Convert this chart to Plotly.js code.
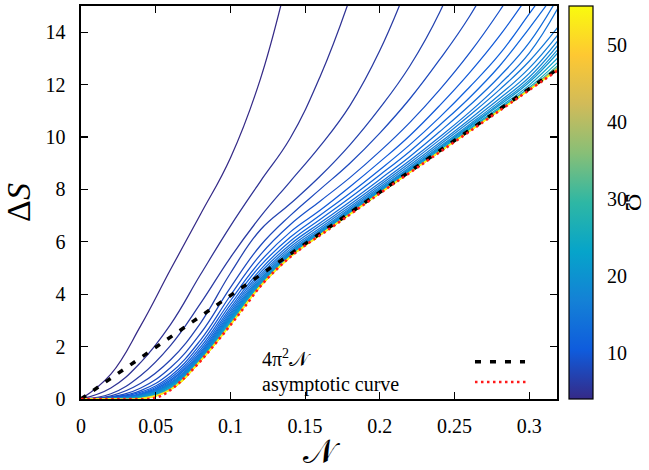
<!DOCTYPE html>
<html><head><meta charset="utf-8">
<script src="https://cdn.plot.ly/plotly-3.0.1.min.js"></script>
<style>html,body{margin:0;padding:0;background:#fff}#chart{width:649px;height:470px}</style>
</head><body><div id="chart"></div>
<script>
// ---- data ----
const N_grid = [0,0.02,0.04,0.06,0.08,0.10,0.12,0.14,0.16,0.18,0.20,0.22,0.24,0.26,0.28,0.30,0.32];
const omega = [4,5,6,7,8,9,10,11,12,13,14,15,16,17,18,19,20,22,25,30,35,40,45,50,55];
const S_O4  = [0,0.95,2.8,4.95,7.05,9.2,12.2,16.5];
const S_O5  = [0,0.42,1.4,2.85,4.75,6.6,8.3,9.95,12.3,15.3,19.0];
const S_O6  = [0,0.2,0.9,2.05,3.65,5.4,6.95,8.3,9.65,11.2,13.3,16.0];
const S_O7  = [0,0.12,0.6,1.5,2.9,4.8,6.45,7.45,8.5,9.7,11.1,12.7,14.75,17.5];
const S_O8  = [0,0.08,0.42,1.2,2.5,4.25,5.85,7.0,8.0,9.0,10.15,11.45,12.95,14.6,16.6];
const S_O9  = [0,0.06,0.32,1.0,2.25,3.95,5.5,6.65,7.55,8.45,9.45,10.55,11.8,13.2,14.8,16.6];
const S_O10 = [0,0.05,0.26,0.88,2.1,3.75,5.25,6.37,7.2,8.1,9.05,10.05,11.2,12.45,13.85,15.45,17.2];
const S_O11 = [0,0.04,0.22,0.8,1.98,3.6,5.08,6.17,7.01,7.85,8.75,9.7,10.75,11.9,13.15,14.7,16.3];
const S_O12 = [0,0.035,0.19,0.73,1.88,3.48,4.93,6.02,6.85,7.68,8.55,9.45,10.45,11.5,12.7,14.15,15.7];
const S_O13 = [0,0.03,0.17,0.68,1.8,3.38,4.82,5.9,6.72,7.53,8.38,9.25,10.2,11.2,12.3,13.6,15.4];
const S_O14 = [0,0.028,0.15,0.63,1.74,3.3,4.73,5.8,6.62,7.42,8.25,9.1,10.0,10.95,12.0,13.2,15.0];
const S_O15 = [0,0.025,0.14,0.6,1.69,3.23,4.65,5.72,6.53,7.34,8.17,9.01,9.89,10.82,11.8,12.89,14.25];
const S_O16 = [0,0.022,0.13,0.57,1.65,3.17,4.58,5.65,6.46,7.27,8.09,8.92,9.78,10.67,11.6,12.63,13.96];
const S_O17 = [0,0.02,0.12,0.55,1.62,3.12,4.53,5.6,6.41,7.22,8.03,8.85,9.7,10.57,11.46,12.43,13.74];
const S_O18 = [0,0.018,0.11,0.53,1.59,3.08,4.49,5.56,6.37,7.18,7.99,8.8,9.63,10.48,11.35,12.28,13.56];
const S_O19 = [0,0.016,0.1,0.51,1.57,3.05,4.45,5.53,6.35,7.15,7.96,8.76,9.58,10.42,11.27,12.17,13.4];
const S_O20 = [0,0.015,0.09,0.49,1.55,3.0,4.42,5.51,6.33,7.13,7.94,8.74,9.55,10.38,11.21,12.09,13.27];
const S_O22 = [0,0.012,0.07,0.45,1.52,2.95,4.38,5.48,6.3,7.1,7.905,8.7,9.505,10.32,11.13,11.98,13.07];
const S_O25 = [0,0.01,0.05,0.42,1.5,2.9,4.35,5.455,6.28,7.08,7.88,8.675,9.47,10.275,11.07,11.89,12.9];
const S_O30 = [0,0.005,0.03,0.39,1.48,2.86,4.32,5.435,6.265,7.065,7.865,8.66,9.45,10.245,11.03,11.835,12.77];
const S_O35 = [0,0.004,0.025,0.38,1.47,2.85,4.31,5.428,6.26,7.06,7.86,8.652,9.442,10.235,11.018,11.815,12.71];
const S_O40 = [0,0.003,0.02,0.37,1.465,2.84,4.305,5.425,6.257,7.057,7.857,8.648,9.438,10.23,11.012,11.805,12.67];
const S_O45 = [0,0.002,0.015,0.365,1.46,2.835,4.303,5.423,6.255,7.055,7.855,8.645,9.435,10.226,11.008,11.8,12.645];
const S_O50 = [0,0.002,0.012,0.36,1.455,2.83,4.302,5.422,6.253,7.053,7.853,8.643,9.433,10.223,11.005,11.796,12.625];
const S_O55 = [0,0.001,0.01,0.355,1.452,2.825,4.301,5.421,6.252,7.052,7.852,8.642,9.432,10.222,11.003,11.794,12.61];
const N_asym = [0,0.03,0.045,0.05,0.055,0.06,0.065,0.07,0.08,0.09,0.10,0.11,0.12,0.13,0.14,0.15,0.16,0.17,0.20,0.24,0.28,0.32];
const S_asym = [0,0,0,0.05,0.16,0.35,0.58,0.85,1.45,2.12,2.82,3.55,4.3,4.9,5.42,5.86,6.25,6.64,7.85,9.42,11.0,12.58];
const N_lin = [0,0.32];
const S_lin = [0,12.63];
const xTicks = [0,0.05,0.1,0.15,0.2,0.25,0.3];
const yTicks = [0,2,4,6,8,10,12,14];
const cbTicks = [10,20,30,40,50];
const legendLabels = ['4π<sup>2</sup>𝒩','asymptotic curve'];

const curves = [S_O4,S_O5,S_O6,S_O7,S_O8,S_O9,S_O10,S_O11,S_O12,S_O13,S_O14,S_O15,S_O16,S_O17,S_O18,S_O19,S_O20,S_O22,S_O25,S_O30,S_O35,S_O40,S_O45,S_O50,S_O55];

// parula-like colour scale
const parula = [[0,'#352a87'],[0.125,'#0f5cdd'],[0.25,'#1481d6'],[0.375,'#06a4ca'],[0.5,'#2eb7a4'],[0.625,'#87bf77'],[0.75,'#d1bb59'],[0.875,'#fec832'],[1,'#f9fb0e']];
const OMIN = 4, OMAX = 55;
function hex2rgb(h){return [parseInt(h.slice(1,3),16),parseInt(h.slice(3,5),16),parseInt(h.slice(5,7),16)];}
function colorAt(v){
  const t = Math.max(0,Math.min(1,(v-OMIN)/(OMAX-OMIN)));
  for(let i=0;i<parula.length-1;i++){
    const a=parula[i], b=parula[i+1];
    if(t>=a[0] && t<=b[0]){
      const f=(t-a[0])/(b[0]-a[0]); const ca=hex2rgb(a[1]), cb=hex2rgb(b[1]);
      return 'rgb('+ca.map((c,k)=>Math.round(c+(cb[k]-c)*f)).join(',')+')';
    }
  }
  return parula[parula.length-1][1];
}

const SERIF = 'Liberation Serif';
const traces = [];
curves.forEach((ys,i)=>{
  traces.push({x:N_grid.slice(0,ys.length), y:ys, type:'scatter', mode:'lines',
    line:{color:colorAt(omega[i]), width:1.25, shape:'spline', smoothing:1.2},
    hoverinfo:'skip', showlegend:false});
});
traces.push({x:N_lin, y:S_lin, type:'scatter', mode:'lines', name:legendLabels[0],
  line:{color:'#000', width:3.5, dash:'6px,9px'}, showlegend:false, hoverinfo:'skip'});
traces.push({x:N_asym, y:S_asym, type:'scatter', mode:'lines', name:legendLabels[1],
  line:{color:'#ff1a1a', width:2.6, dash:'2.5px,3.5px', shape:'spline', smoothing:1}, showlegend:false, hoverinfo:'skip'});
// colour bar carrier
traces.push({x:omega.map(()=>null), y:omega.map(()=>null), type:'scatter', mode:'markers',
  marker:{color:omega, cmin:OMIN, cmax:OMAX, colorscale:parula, showscale:true,
    colorbar:{x:1.0252, xanchor:'left', y:0.5, yanchor:'middle', len:1, lenmode:'fraction',
      thickness:24, thicknessmode:'pixels', xpad:0, ypad:0, outlinewidth:1.2, outlinecolor:'#000',
      tickvals:cbTicks, ticks:'outside', ticklen:10, tickcolor:'rgba(0,0,0,0)',
      tickfont:{family:SERIF, size:20, color:'#000'}}},
  showlegend:false, hoverinfo:'skip'});

const xb0 = 1.0252, xb1 = 1.0252 + 24/476, tl = 7/476;
const shapes = [];
cbTicks.forEach(v=>{
  const yy=(v-OMIN)/(OMAX-OMIN);
  shapes.push({type:'line', xref:'paper', yref:'paper', x0:xb0, x1:xb0+tl, y0:yy, y1:yy, line:{color:'#000', width:1.3}});
  shapes.push({type:'line', xref:'paper', yref:'paper', x0:xb1-tl, x1:xb1, y0:yy, y1:yy, line:{color:'#000', width:1.3}});
});
// legend samples
shapes.push({type:'line', xref:'paper', yref:'paper', x0:0.8277, x1:0.9328, y0:0.0948, y1:0.0948, line:{color:'#000', width:3.5, dash:'6px,9px'}});
shapes.push({type:'line', xref:'paper', yref:'paper', x0:0.8277, x1:0.9412, y0:0.0432, y1:0.0432, line:{color:'#ff1a1a', width:2.6, dash:'2.5px,3.5px'}});

const layout = {
  width:649, height:470,
  margin:{l:81, r:92, t:6, b:71, pad:0},
  paper_bgcolor:'#fff', plot_bgcolor:'#fff',
  font:{family:SERIF, color:'#000', size:20},
  showlegend:false,
  xaxis:{range:[0,0.3186], tickvals:xTicks, ticks:'inside', ticklen:7, tickwidth:1.2, tickcolor:'#000',
    mirror:'allticks', showline:true, linecolor:'#000', linewidth:1.6, showgrid:false, zeroline:false,
    tickfont:{family:SERIF, size:20, color:'#000'}, ticklabelstandoff:8,
    title:{text:'𝒩', font:{family:SERIF, size:34, color:'#000'}, standoff:3}},
  yaxis:{range:[0,15], tickvals:yTicks, ticks:'inside', ticklen:7, tickwidth:1.2, tickcolor:'#000',
    mirror:'allticks', showline:true, linecolor:'#000', linewidth:1.6, showgrid:false, zeroline:false,
    tickfont:{family:SERIF, size:20, color:'#000'}, ticklabelstandoff:10,
    title:{text:'Δ<i>S</i>', font:{family:SERIF, size:34, color:'#000'}, standoff:18}},
  shapes:shapes,
  annotations:[
    {xref:'paper', yref:'paper', x:0.376, y:0.1042, xanchor:'left', yanchor:'middle', showarrow:false, text:legendLabels[0], font:{family:SERIF, size:20}},
    {xref:'paper', yref:'paper', x:0.376, y:0.0381, xanchor:'left', yanchor:'middle', showarrow:false, text:legendLabels[1], font:{family:SERIF, size:20}},
    {xref:'paper', yref:'paper', x:1.162, y:0.50, xanchor:'center', yanchor:'middle', showarrow:false, text:'Ω', textangle:90, font:{family:SERIF, size:24}}
  ]
};
Plotly.newPlot('chart', traces, layout, {displayModeBar:false, staticPlot:true});
</script>
</body></html>
